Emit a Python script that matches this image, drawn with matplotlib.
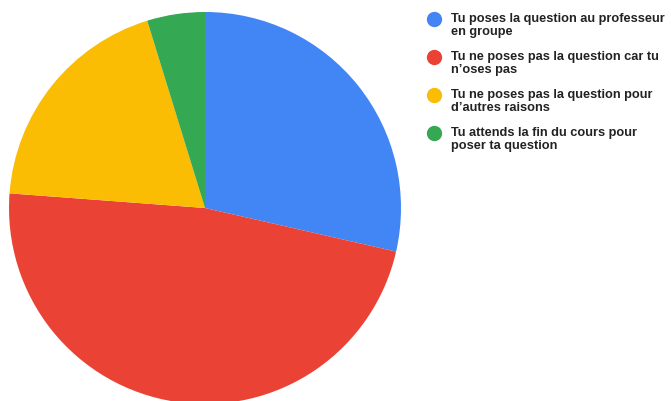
import matplotlib
matplotlib.use("Agg")
import matplotlib.pyplot as plt

# answers (counts)
labels = ["Tu poses la question au professeur\nen groupe",
          "Tu ne poses pas la question car tu\nn\u2019oses pas",
          "Tu ne poses pas la question pour\nd\u2019autres raisons",
          "Tu attends la fin du cours pour\nposer ta question"]
counts = [6, 10, 4, 1]
colors = ["#4285F4", "#EA4335", "#FBBC04", "#34A853"]

plt.rcParams['font.family'] = ['Liberation Sans', 'DejaVu Sans']

fig = plt.figure(figsize=(6.71, 4.01), dpi=100)
W, H = 671, 401
cx, cy, r = 205, 208, 196
ax = fig.add_axes([(cx - r) / W, (H - cy - r) / H, 2 * r / W, 2 * r / H])
ax.pie(counts, colors=colors, startangle=90, counterclock=False,
       wedgeprops={'linewidth': 0}, radius=1)
ax.set_xlim(-1, 1)
ax.set_ylim(-1, 1)
ax.set_aspect('equal')
ax.axis('off')

# legend drawn by hand in pixel coordinates (top-left origin)
lg = fig.add_axes([0, 0, 1, 1])
lg.set_xlim(0, W)
lg.set_ylim(H, 0)
lg.axis('off')
for i, (lab, c) in enumerate(zip(labels, colors)):
    top = 19 + i * 38
    lg.plot(434, top, 'o', markersize=10, color=c)
    # baseline of the last line of the label
    lg.text(451, top + 16, lab, ha='left', va='baseline', fontsize=9.2,
            fontweight='bold', linespacing=1.1, color='#222222')

fig.savefig("out.png", dpi=100)
